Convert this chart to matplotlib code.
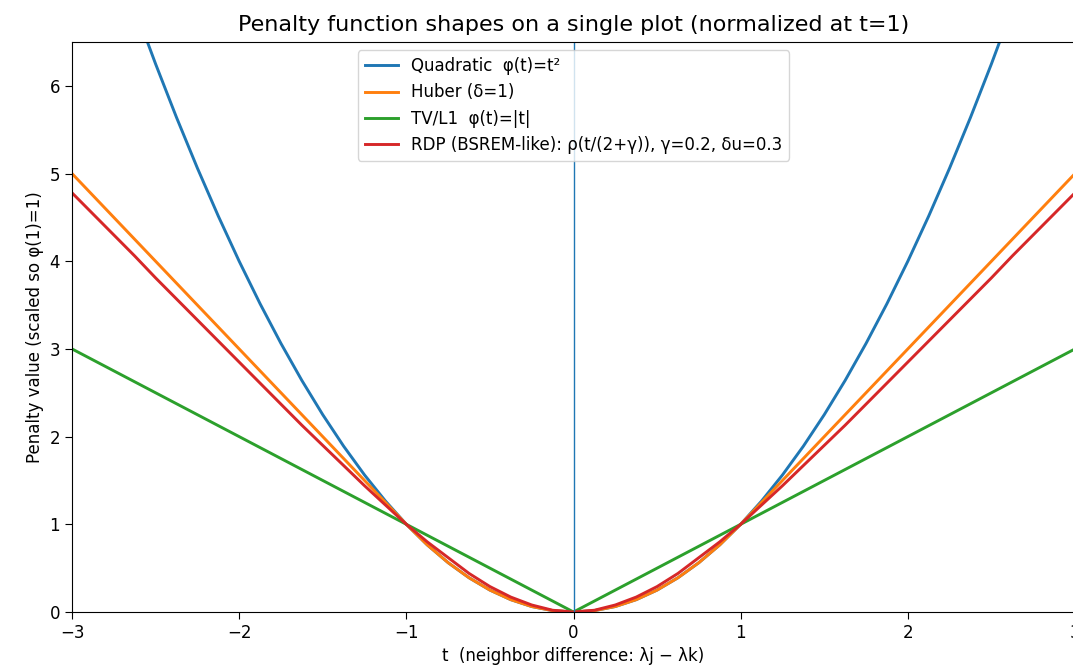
import matplotlib.pyplot as plt

t_vals = [-3.0, -2.875, -2.75, -2.625, -2.5, -2.375, -2.25, -2.125, -2.0, -1.875, -1.75, -1.625,
          -1.5, -1.375, -1.25, -1.125, -1.0, -0.875, -0.75, -0.625, -0.5, -0.375, -0.25, -0.125, 0.0,
          0.125, 0.25, 0.375, 0.5, 0.625, 0.75, 0.875, 1.0, 1.125, 1.25, 1.375, 1.5, 1.625,
          1.75, 1.875, 2.0, 2.125, 2.25, 2.375, 2.5, 2.625, 2.75, 2.875, 3.0]

quadratic = [9.0, 8.2656, 7.5625, 6.8906, 6.25, 5.6406, 5.0625, 4.5156, 4.0, 3.5156, 3.0625, 2.6406,
             2.25, 1.8906, 1.5625, 1.2656, 1.0, 0.7656, 0.5625, 0.3906, 0.25, 0.1406, 0.0625, 0.0156, 0.0,
             0.0156, 0.0625, 0.1406, 0.25, 0.3906, 0.5625, 0.7656, 1.0, 1.2656, 1.5625, 1.8906, 2.25, 2.6406,
             3.0625, 3.5156, 4.0, 4.5156, 5.0625, 5.6406, 6.25, 6.8906, 7.5625, 8.2656, 9.0]

huber = [5.0, 4.75, 4.5, 4.25, 4.0, 3.75, 3.5, 3.25, 3.0, 2.75, 2.5, 2.25,
         2.0, 1.75, 1.5, 1.25, 1.0, 0.7656, 0.5625, 0.3906, 0.25, 0.1406, 0.0625, 0.0156, 0.0,
         0.0156, 0.0625, 0.1406, 0.25, 0.3906, 0.5625, 0.7656, 1.0, 1.25, 1.5, 1.75, 2.0, 2.25,
         2.5, 2.75, 3.0, 3.25, 3.5, 3.75, 4.0, 4.25, 4.5, 4.75, 5.0]

tv_l1 = [3.0, 2.875, 2.75, 2.625, 2.5, 2.375, 2.25, 2.125, 2.0, 1.875, 1.75, 1.625,
         1.5, 1.375, 1.25, 1.125, 1.0, 0.875, 0.75, 0.625, 0.5, 0.375, 0.25, 0.125, 0.0,
         0.125, 0.25, 0.375, 0.5, 0.625, 0.75, 0.875, 1.0, 1.125, 1.25, 1.375, 1.5, 1.625,
         1.75, 1.875, 2.0, 2.125, 2.25, 2.375, 2.5, 2.625, 2.75, 2.875, 3.0]

rdp = [4.78, 4.54, 4.30, 4.06, 3.81, 3.57, 3.33, 3.09, 2.85, 2.61, 2.37, 2.13,
       1.9, 1.67, 1.44, 1.22, 1.0, 0.8, 0.62, 0.44, 0.29, 0.17, 0.08, 0.02, 0.0,
       0.02, 0.08, 0.17, 0.29, 0.44, 0.62, 0.8, 1.0, 1.22, 1.44, 1.67, 1.9, 2.13,
       2.37, 2.61, 2.85, 3.09, 3.33, 3.57, 3.81, 4.06, 4.30, 4.54, 4.78]

labels = ["Quadratic  φ(t)=t²",
          "Huber (δ=1)",
          "TV/L1  φ(t)=|t|",
          "RDP (BSREM-like): ρ(t/(2+γ)), γ=0.2, δu=0.3"]

fig = plt.figure(figsize=(10.73, 6.67), dpi=100)
ax = fig.add_axes([72/1073, 55/667, 1003/1073, 570/667])

for y, lab in zip([quadratic, huber, tv_l1, rdp], labels):
    ax.plot(t_vals, y, linewidth=2.1, label=lab)
ax.axvline(0, linewidth=1.0, color="C0")

ax.set_xlim(-3, 3)
ax.set_ylim(0, 6.5)
ax.tick_params(labelsize=12, length=5)
ax.set_xlabel("t  (neighbor difference: λj − λk)", fontsize=12)
ax.set_ylabel("Penalty value (scaled so φ(1)=1)", fontsize=12)
ax.set_title("Penalty function shapes on a single plot (normalized at t=1)", fontsize=16, pad=8)
ax.legend(loc="upper center", fontsize=12)

fig.savefig("out.png", dpi=100)
